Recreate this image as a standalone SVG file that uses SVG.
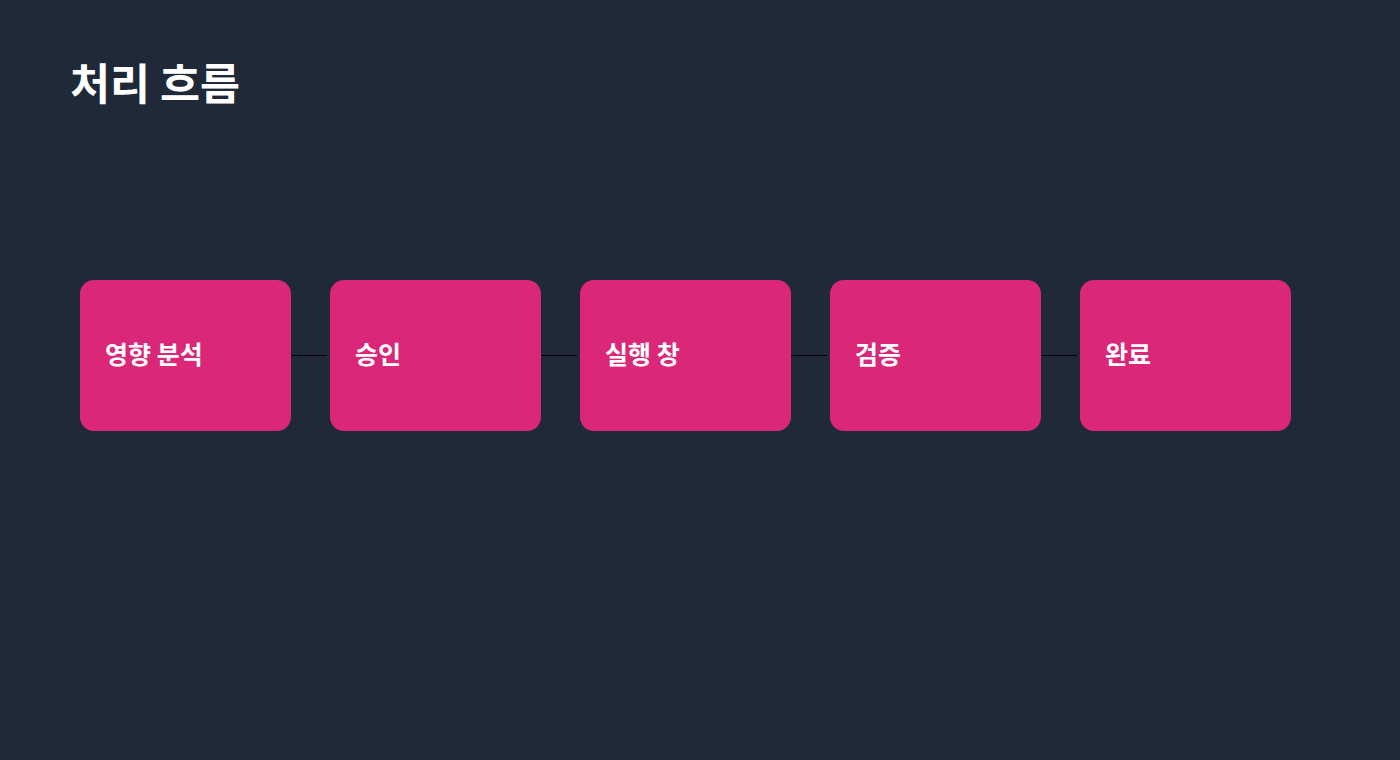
<svg xmlns="http://www.w3.org/2000/svg" width="1400" height="760" viewBox="0 0 1400 760">
<style>
.bg{fill:#1f2937}
.node rect{fill:#db2777}
.label{font-family:"Noto Sans CJK KR","Noto Sans",sans-serif;font-weight:700;font-size:25px;fill:#ffffff}
.title{font-family:"Noto Sans CJK KR","Noto Sans",sans-serif;font-weight:700;font-size:43.5px;fill:#ffffff}
.conn line{stroke:#000000;stroke-width:1}
</style>
<rect class="bg" x="0" y="0" width="1400" height="760"/>
<text class="title" x="70" y="100">처리 흐름</text>
<g id="connectors" class="conn">
<line x1="290" y1="355.5" x2="327" y2="355.5"/>
<line x1="540" y1="355.5" x2="577" y2="355.5"/>
<line x1="790" y1="355.5" x2="827" y2="355.5"/>
<line x1="1040" y1="355.5" x2="1077" y2="355.5"/>
</g>
<g id="node1" class="node"><rect x="80" y="280" width="211" height="151" rx="14"/><text class="label" x="105" y="364">영향 분석</text></g>
<g id="node2" class="node"><rect x="330" y="280" width="211" height="151" rx="14"/><text class="label" x="355" y="364">승인</text></g>
<g id="node3" class="node"><rect x="580" y="280" width="211" height="151" rx="14"/><text class="label" x="605" y="364">실행 창</text></g>
<g id="node4" class="node"><rect x="830" y="280" width="211" height="151" rx="14"/><text class="label" x="855" y="364">검증</text></g>
<g id="node5" class="node"><rect x="1080" y="280" width="211" height="151" rx="14"/><text class="label" x="1105" y="364">완료</text></g>
</svg>
